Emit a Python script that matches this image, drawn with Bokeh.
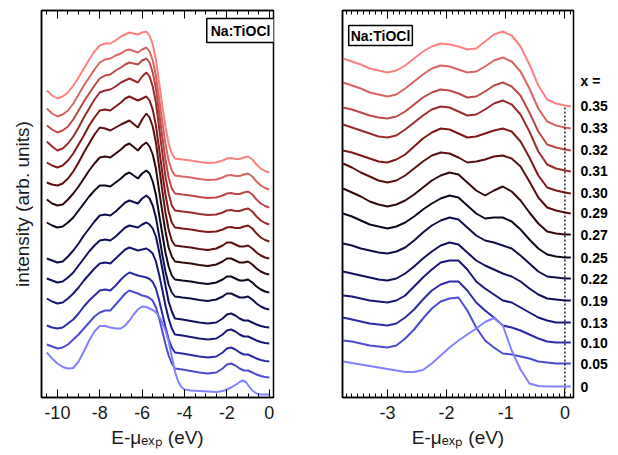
from bokeh.plotting import figure
from bokeh.models import Range1d, LinearAxis, SingleIntervalTicker, FixedTicker, Label
from bokeh.layouts import row
from bokeh.embed import file_html
from bokeh.resources import INLINE

# ---------------- data ----------------
X_LABELS = ["0.35", "0.33", "0.32", "0.31", "0.30", "0.29", "0.27",
            "0.25", "0.22", "0.19", "0.13", "0.10", "0.05", "0"]
COLORS = ["#ff8080", "#d86464", "#bc4848", "#9c2c2c", "#801818", "#5c1010",
          "#300a0a", "#0a0a1e", "#0e0e48", "#10105e", "#181878", "#2c2ca8",
          "#4c4cd2", "#8282ff"]

# left panel: E - mu_exp (eV) and intensity (arb. units), offset spectra
LX = [-10.5, -10.25, -10.0, -9.75, -9.5, -9.25, -9.0, -8.75, -8.5, -8.25,
      -8.0, -7.75, -7.5, -7.25, -7.0, -6.8, -6.6, -6.4, -6.2, -6.0, -5.8,
      -5.65, -5.5, -5.35, -5.2, -5.05, -4.9, -4.75, -4.6, -4.45, -4.1, -3.7,
      -3.3, -2.9, -2.5, -2.2, -2.0, -1.8, -1.6, -1.4, -1.2, -1.0, -0.8, -0.6,
      -0.4, -0.2, 0.0]
L35 = [307, 302, 299, 301, 305, 312, 320, 329, 338, 346, 352, 354, 354, 357, 361, 363, 365, 364, 363, 365, 366,
       362, 353, 338, 315, 292, 271, 254, 244, 239, 238, 237, 235.5, 234.5, 235, 237, 239, 239.5, 238.5, 238.5,
       240, 241, 238, 233, 229, 226.5, 225]
L33 = [289, 284, 281, 283, 287, 294, 303, 312, 320, 328, 335, 338, 339, 342, 344, 347, 348, 346.5, 345, 348, 350,
       346, 337, 322, 299, 276, 254, 237, 227, 222, 221, 220, 218.5, 217.5, 218, 220, 222, 222.5, 221.5, 221.5,
       223, 224, 221, 216, 212, 209.5, 208]
L32 = [272, 268, 265, 267, 271, 278, 287, 296, 304, 312, 319, 322, 323, 327, 330, 333, 335, 334, 333, 337, 339,
       335, 325, 309, 285, 261, 238, 220, 209, 204, 203, 202, 200.5, 199.5, 200, 202, 204, 204.5, 203.5, 203.5,
       205, 206, 203, 198, 194, 191.5, 190]
L31 = [256, 251, 247, 249, 254, 261, 270, 280, 289, 298, 305, 307, 308, 311, 315, 317, 319, 317, 315, 321, 325,
       321, 311, 295, 270, 245, 221, 204, 192, 187, 186, 185, 183.5, 182.5, 183, 185, 187, 187.5, 186.5, 186.5,
       188, 189, 186, 181, 177, 174.5, 173]
L30 = [235, 232, 230, 232, 237, 244, 253, 262, 272, 280, 287, 288, 287, 291, 295, 299, 301, 299, 297, 299, 301,
       297, 288, 272, 249, 225, 203, 186, 175, 170, 169, 168, 166.5, 165.5, 166, 168, 170, 170.5, 169.5, 169.5,
       171, 172, 169, 164, 160, 157.5, 156]
L29 = [215, 213, 212, 214, 219, 226, 235, 245, 254, 263, 270, 269, 267, 270, 273, 275, 277, 273.5, 270, 278, 284,
       280, 271, 255, 231, 207, 185, 168, 157, 152, 151, 150, 148.5, 147.5, 149, 152, 155, 155, 153, 151,
       151, 152, 149, 145, 142, 140, 139]
L27 = [198, 194, 192, 193, 198, 204, 211, 219, 227, 234, 240, 241, 240, 244, 248, 252, 254, 250.5, 247, 252, 255,
       251, 243, 229, 207, 186, 166, 150, 141, 136, 135, 134, 132.5, 131.5, 133, 136, 139, 139, 137, 135,
       135, 136, 133, 129, 126, 124, 123]
L25 = [175, 172, 170, 171, 175, 180, 187, 194, 201, 207, 212, 212, 211, 215, 219, 223, 225, 222, 219, 224, 227,
       224, 216, 203, 183, 164, 145, 131, 122, 118, 117, 116, 114.5, 113.5, 115, 118, 121, 121, 119, 117,
       117, 118, 115, 111, 108, 106, 105]
L22 = [139, 137, 135, 136, 141, 147, 154, 162, 169, 176, 182, 183, 182, 186, 191, 195, 197, 195.5, 194, 199, 202,
       199, 192, 180, 162, 143, 126, 113, 105, 101, 100, 99, 97.5, 96.5, 98, 101, 104, 104, 102, 100,
       100, 101, 98, 94, 91, 89, 88]
L19 = [119, 117, 115, 116, 120, 125, 132, 139, 146, 152, 157, 158, 157, 161, 166, 170, 172, 171, 170, 173, 175,
       173, 169, 161, 146, 129, 112, 96, 86, 79, 78, 76.5, 75, 74, 75, 79, 83, 84, 82, 79,
       77, 77, 75, 73, 71.5, 70.5, 70]
L13 = [99, 96, 94, 95, 99, 104, 110, 117, 123, 129, 134, 135, 134, 139, 144, 148, 150, 148.5, 147, 148, 149,
       147, 144, 136, 123, 108, 92, 79, 69, 63, 62, 60.5, 59, 58, 59, 63, 67, 68, 66, 63,
       61, 61, 59, 57, 55.5, 54.5, 54]
L10 = [72, 70, 69, 70, 74, 78, 84, 91, 97, 102, 107, 108, 107, 112, 118, 122, 125, 123.5, 122, 121, 120,
       118.5, 115.5, 109, 97.5, 84, 70.5, 58.5, 50, 45, 44, 42.5, 41, 40, 41, 45, 49, 50, 48, 45,
       43, 43, 41, 39, 37.5, 36.5, 36]
L05 = [53, 51, 49, 50, 53, 58, 63, 69, 75, 81, 85, 87, 87, 93, 99, 104, 107, 105.5, 104, 102, 101,
       99.5, 96.7, 90.2, 79.4, 66.4, 53.5, 42, 34, 29, 28, 26.5, 25, 24, 25, 29, 33, 34, 32, 29,
       27, 27, 25, 23, 21.5, 20.5, 20]
LX00 = [-10.5, -10.25, -10.0, -9.75, -9.5, -9.25, -9.0, -8.75, -8.5, -8.25, -8.0,
        -7.75, -7.5, -7.25, -7.0, -6.8, -6.6, -6.4, -6.2, -6.0, -5.8, -5.65, -5.5,
        -5.35, -5.2, -5.05, -4.9, -4.75, -4.6, -4.45, -4.3, -4.15, -4.0, -3.7, -3.3,
        -2.9, -2.5, -2.2, -2.0, -1.8, -1.6, -1.4, -1.25, -1.1, -0.95, -0.8, -0.6,
        -0.4, -0.2, 0.0]
L00 = [45, 39, 34, 30.5, 29, 29.5, 36, 46, 57, 66, 71.5, 71.5, 70, 69, 69, 72, 77, 83, 88, 91, 90.5,
       89, 87.5, 85, 81, 75, 67, 56, 41, 26, 16, 10.5, 8, 7, 6.5, 6, 5.5, 6.5, 8, 10, 12.5,
       15.5, 17, 15.5, 11, 7, 4, 3, 3, 3]

# right panel (near-edge region)
RX = [-3.75, -3.6, -3.45, -3.3, -3.15, -3.0, -2.85, -2.7, -2.55, -2.4, -2.25,
      -2.1, -1.95, -1.8, -1.65, -1.5, -1.35, -1.2, -1.05, -0.9, -0.75, -0.6,
      -0.45, -0.3, -0.15, 0.0, 0.1]
R35 = [339, 336, 333, 329, 327, 325, 327, 332, 339, 346, 351, 354, 353, 351, 348, 349, 356, 363, 366, 362, 351, 333, 312, 298, 294, 292, 291]
R33 = [315, 312, 309, 305, 303, 301, 303, 309, 316, 323, 329, 332, 331, 328, 325, 326, 331, 337, 340, 336, 326, 309, 289, 276, 272, 270, 269]
R32 = [290, 288, 285, 282, 280, 279, 281, 286, 293, 300, 305, 308, 307, 304, 300, 301, 306, 312, 315, 311, 302, 285, 266, 253, 250, 248, 247]
R31 = [273, 270, 267, 264, 261, 260, 262, 268, 275, 282, 288, 291, 290, 286, 282, 283, 288, 294, 297, 293, 283, 266, 246, 233, 229, 227, 226]
R30 = [247, 245, 242, 239, 236, 235, 238, 243, 251, 259, 265, 269, 268, 264, 260, 261, 264, 267, 269, 266, 256, 240, 222, 210, 207, 205, 204]
R29 = [234, 230, 225, 221, 217, 215, 217, 222, 229, 236, 242, 245, 244, 240, 235, 236, 238, 241, 242, 239, 231, 216, 200, 190, 187, 185, 184]
R27 = [209, 205, 201, 196, 193, 191, 193, 197, 203, 210, 217, 222, 225, 223, 215, 207, 202, 207, 211, 206, 197, 185, 174, 166, 164, 163, 163]
R25 = [184, 181, 177, 173, 171, 169, 171, 175, 181, 188, 194, 199, 202, 200, 192, 184, 179, 180, 180, 176, 168, 158, 149, 143, 141, 140, 140]
R22 = [154, 152, 149, 147, 145, 144, 146, 150, 157, 165, 172, 177, 180, 178, 170, 162, 157, 155, 152, 149, 142, 134, 126, 121, 120, 119, 119]
R19 = [126, 124, 122, 120, 118, 117, 119, 124, 131, 139, 146, 152, 155, 153, 145, 137, 132, 128, 124, 121, 116, 109, 103, 99, 98, 97, 97]
R13 = [102, 101, 99, 97, 96, 95, 97, 102, 111, 120, 128, 135, 137, 137, 128, 116, 109, 103, 97, 95, 90, 85, 80, 77, 75, 75, 75]
R10 = [80, 78, 76, 74, 73, 72, 74, 80, 88, 98, 107, 113, 116, 116, 107, 95, 87, 80, 72, 70, 67, 63, 59, 56, 55, 55, 55]
R05 = [57, 56, 54, 52, 51, 50, 52, 59, 68, 79, 89, 96, 99, 100, 87, 70, 57, 50, 44, 43, 41, 39, 36, 35, 34, 34, 34]
R00 = [36, 34.5, 33, 31.5, 30, 28.5, 27, 25.5, 25.5, 27.5, 34, 42, 50, 57, 63, 69, 75.5, 79.5, 72, 47, 28, 14, 11.5, 11, 11, 11, 11]

LEFT = [(LX, L35), (LX, L33), (LX, L32), (LX, L31), (LX, L30), (LX, L29), (LX, L27),
        (LX, L25), (LX, L22), (LX, L19), (LX, L13), (LX, L10), (LX, L05), (LX00, L00)]
RIGHT = [R35, R33, R32, R31, R30, R29, R27, R25, R22, R19, R13, R10, R05, R00]

FONT = "Liberation Sans"
TXT = "#1a1a1a"


def style_xaxis(ax, interval, nminor, show_labels):
    ax.ticker = SingleIntervalTicker(interval=interval, num_minor_ticks=nminor)
    ax.major_tick_in = 8
    ax.major_tick_out = 0
    ax.minor_tick_in = 4
    ax.minor_tick_out = 0
    ax.major_tick_line_color = "black"
    ax.minor_tick_line_color = "black"
    ax.major_tick_line_width = 1
    ax.minor_tick_line_width = 1
    ax.axis_line_color = "black"
    ax.axis_line_width = 1.5
    if show_labels:
        ax.major_label_text_font = FONT
        ax.major_label_text_font_size = "18px"
        ax.major_label_text_color = TXT
        ax.major_label_standoff = 8
        ax.axis_label = "E-μₑₓₚ (eV)"
        ax.axis_label_text_font = FONT
        ax.axis_label_text_font_size = "19px"
        ax.axis_label_text_font_style = "normal"
        ax.axis_label_text_color = TXT
        ax.axis_label_standoff = 5
    else:
        ax.major_label_text_color = None
        ax.major_label_text_font_size = "1px"
        ax.major_label_standoff = 0


def make_fig(width, xr, bl, br):
    p = figure(width=width, height=455, x_range=Range1d(*xr), y_range=Range1d(0, 387),
               output_backend="svg", toolbar_location=None,
               min_border_left=bl, min_border_right=br, min_border_top=10,
               min_border_bottom=58)
    p.grid.visible = False
    p.outline_line_color = "black"
    p.outline_line_width = 1.5
    p.background_fill_color = "white"
    p.border_fill_color = "white"
    return p


# ---------------- left panel ----------------
p1 = make_fig(308, (-10.75, 0.2), 41, 35)
for (xs, ys), c in zip(LEFT, COLORS):
    p1.line(xs, ys, line_color=c, line_width=2)

style_xaxis(p1.below[0], 2, 4, True)
p1.below[0].major_label_overrides = {v: str(v) for v in range(-10, 1, 2)}
top1 = LinearAxis()
style_xaxis(top1, 2, 4, False)
p1.add_layout(top1, "above")

ya = p1.left[0]
ya.ticker = FixedTicker(ticks=[])
ya.axis_line_color = "black"
ya.axis_line_width = 1.5
ya.axis_label = "intensity (arb. units)"
ya.axis_label_text_font = FONT
ya.axis_label_text_font_size = "19px"
ya.axis_label_text_font_style = "normal"
ya.axis_label_text_color = TXT
ya.axis_label_standoff = 9

p1.add_layout(Label(x=-2.95, y=379, text="Na:TiOCl", text_align="left", text_baseline="top",
                    text_font=FONT, text_font_style="bold", text_font_size="14px",
                    text_color="black", border_line_color="black", border_line_width=1.5,
                    background_fill_color="white", padding=4))

# ---------------- right panel ----------------
p2 = make_fig(310, (-3.76, 0.145), 34, 45)
for ys, c in zip(RIGHT, COLORS):
    p2.line(RX, ys, line_color=c, line_width=2)

i0 = RX.index(0.0)
p2.segment(x0=[0.0], y0=[0], x1=[0.0], y1=[R35[i0]], line_color="black",
           line_width=1.3, line_dash="2 2")

style_xaxis(p2.below[0], 1, 10, True)
p2.below[0].major_label_overrides = {v: str(v) for v in range(-3, 1)}
top2 = LinearAxis()
style_xaxis(top2, 1, 10, False)
p2.add_layout(top2, "above")

ly = p2.left[0]
ly.ticker = FixedTicker(ticks=[])
ly.axis_line_color = "black"
ly.axis_line_width = 1.5

ends = [ys[i0] for ys in RIGHT]
head_pos = 317
overrides = {int(e): lab for e, lab in zip(ends, X_LABELS)}
overrides[head_pos] = "x ="
ra = LinearAxis(ticker=FixedTicker(ticks=[head_pos] + [int(e) for e in ends]))
ra.major_label_overrides = overrides
ra.axis_line_color = None
ra.major_tick_line_color = None
ra.minor_tick_line_color = None
ra.major_tick_out = 0
ra.major_tick_in = 0
ra.major_label_standoff = 7
ra.major_label_text_font = FONT
ra.major_label_text_font_style = "bold"
ra.major_label_text_font_size = "14px"
ra.major_label_text_color = "black"
p2.add_layout(ra, "right")

p2.add_layout(Label(x=-3.655, y=372, text="Na:TiOCl", text_align="left", text_baseline="top",
                    text_font=FONT, text_font_style="bold", text_font_size="14px",
                    text_color="black", border_line_color="black", border_line_width=1.5,
                    background_fill_color="white", padding=2))

layout = row(p1, p2)
open("out.html", "w").write(file_html(layout, INLINE))
